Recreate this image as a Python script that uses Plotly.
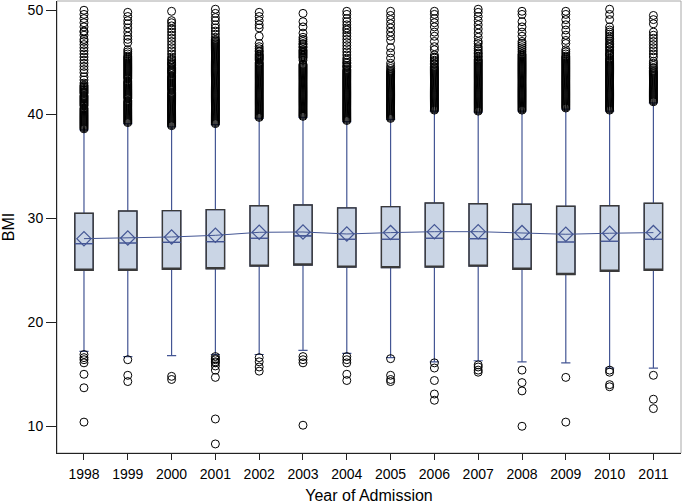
import plotly.graph_objects as go

years = ["1998", "1999", "2000", "2001", "2002", "2003", "2004",
         "2005", "2006", "2007", "2008", "2009", "2010", "2011"]

q1 = [25.0, 25.0, 25.1, 25.15, 25.4, 25.5, 25.3, 25.25, 25.3, 25.4, 25.1, 24.6, 24.9, 25.0]
median = [27.56, 27.62, 27.69, 27.75, 28.08, 28.3, 27.98, 27.98, 28.08, 28.04, 27.98, 27.72, 27.79, 27.98]
q3 = [30.48, 30.7, 30.73, 30.83, 31.21, 31.28, 31.0, 31.12, 31.47, 31.4, 31.35, 31.15, 31.21, 31.44]
means = [28.04, 28.1, 28.2, 28.36, 28.65, 28.68, 28.49, 28.62, 28.71, 28.71, 28.62, 28.46, 28.56, 28.62]
whisker_low = [17.2, 16.7, 16.8, 16.9, 16.9, 17.3, 17.0, 16.6, 16.2, 16.3, 16.2, 16.1, 15.6, 15.6]
whisker_high = [38.5, 39.1, 38.8, 39.0, 39.6, 39.7, 39.3, 39.5, 40.3, 40.2, 40.3, 40.5, 40.3, 41.1]

low_outliers = [
    [16.9, 16.6, 16.4, 16.1, 15.0, 13.7, 10.4],
    [16.4, 14.9, 14.3],
    [14.8, 14.5],
    [16.7, 16.5, 16.4, 16.2, 16.1, 15.8, 15.4, 14.7, 10.7, 8.3],
    [16.6, 16.2, 15.7, 15.3],
    [16.7, 16.4, 16.1, 10.1],
    [16.7, 16.4, 16.1, 15.0, 14.4],
    [16.5, 14.9, 14.5, 14.3],
    [16.1, 15.6, 14.4, 13.1, 12.5],
    [15.9, 15.7, 15.4, 15.2],
    [15.4, 14.2, 13.4, 10.0],
    [14.7, 10.4],
    [15.4, 15.2, 14.0, 13.8],
    [14.9, 12.6, 11.7],
]

high_outliers = [
    # 1998
    [38.6, 38.7, 38.8, 38.9, 39.0, 39.1, 39.2, 39.3, 39.4, 39.5, 39.6, 39.7, 39.8, 39.9,
     40.0, 40.1, 40.2, 40.3, 40.4, 40.5, 40.6, 40.8, 40.9, 41.0, 41.1, 41.2, 41.3, 41.4,
     41.5, 41.6, 41.7, 41.8, 42.0, 42.1, 42.2, 42.3, 42.4, 42.5, 42.6, 42.7, 42.8, 43.0,
     43.3, 43.6, 44.0, 44.3, 44.6, 44.9, 45.2, 45.5, 45.8, 46.1, 46.4, 46.7, 47.0, 47.2,
     47.6, 47.9, 48.0, 48.4, 48.8, 49.2, 49.6, 50.0],
    # 1999
    [39.2, 39.3, 39.4, 39.5, 39.6, 39.7, 39.8, 39.9, 40.0, 40.1, 40.2, 40.3, 40.4, 40.5,
     40.6, 40.7, 40.8, 40.9, 41.0, 41.1, 41.2, 41.3, 41.5, 41.6, 41.7, 41.8, 41.9, 42.0,
     42.1, 42.2, 42.3, 42.4, 42.5, 42.6, 42.7, 42.8, 42.9, 43.0, 43.1, 43.2, 43.4, 43.5,
     43.6, 43.7, 43.8, 43.9, 44.0, 44.1, 44.2, 44.3, 44.4, 44.5, 44.6, 44.7, 44.8, 44.9,
     45.0, 45.1, 45.2, 45.3, 45.4, 45.5, 45.6, 45.8, 46.0, 46.2,
     46.9, 47.2, 47.5, 47.9, 48.3, 48.7, 49.0, 49.4, 49.8],
    # 2000
    [38.9, 39.0, 39.1, 39.2, 39.3, 39.4, 39.5, 39.6, 39.7, 39.8, 39.9, 40.0, 40.1, 40.2,
     40.3, 40.4, 40.5, 40.6, 40.7, 40.8, 40.9, 41.0, 41.1, 41.2, 41.3, 41.4, 41.5, 41.6,
     41.7, 41.8, 41.9, 42.0, 42.1, 42.3, 42.4, 42.5, 42.6, 42.7, 42.8, 42.9, 43.0, 43.1,
     43.2, 43.3, 43.4, 43.5, 43.6, 43.7, 43.9, 44.0, 44.1, 44.2, 44.3, 44.4, 44.5, 44.7,
     44.8, 44.9, 45.0, 45.2, 45.3, 45.5,
     45.8, 46.1, 46.4, 46.7, 47.0, 47.3, 47.6, 47.9, 48.2, 48.5, 48.8, 49.0, 49.9],
    # 2001
    [39.1, 39.2, 39.3, 39.4, 39.5, 39.6, 39.7, 39.8, 39.9, 40.0, 40.1, 40.2, 40.3, 40.4,
     40.5, 40.6, 40.7, 40.8, 40.9, 41.0, 41.1, 41.2, 41.3, 41.4, 41.5, 41.6, 41.7, 41.8,
     41.9, 42.0, 42.1, 42.2, 42.3, 42.4, 42.5, 42.6, 42.7, 42.8, 42.9, 43.0, 43.1, 43.2,
     43.3, 43.4, 43.5, 43.6, 43.7, 43.8, 43.9, 44.0, 44.1, 44.2, 44.3, 44.4, 44.5, 44.6,
     44.7, 44.8, 44.9, 45.0, 45.1, 45.2, 45.3, 45.4, 45.5, 45.6, 45.7, 45.8, 45.9, 46.0,
     46.1, 46.2, 46.3, 46.4, 46.5, 46.6, 46.7, 46.8, 46.9, 47.0, 47.1, 47.2, 47.4,
     47.7, 48.0, 48.3, 48.6, 49.0, 49.3, 49.7, 50.1],
    # 2002
    [39.7, 39.8, 39.9, 40.0, 40.1, 40.2, 40.3, 40.4, 40.5, 40.6, 40.7, 40.8, 40.9, 41.0,
     41.1, 41.2, 41.3, 41.4, 41.5, 41.6, 41.7, 41.8, 41.9, 42.0, 42.1, 42.2, 42.3, 42.4,
     42.5, 42.6, 42.7, 42.8, 42.9, 43.0, 43.1, 43.2, 43.3, 43.4, 43.5, 43.6, 43.7, 43.8,
     43.9, 44.0, 44.1, 44.2, 44.3, 44.4, 44.5, 44.6, 44.7, 44.8, 44.9, 45.0, 45.2, 45.3,
     45.4, 45.5, 45.6, 45.7, 45.8, 46.0, 46.1, 46.3, 46.5,
     46.8, 47.5, 48.3, 48.6, 49.0, 49.4, 49.8],
    # 2003
    [39.8, 39.9, 40.0, 40.1, 40.2, 40.3, 40.4, 40.5, 40.6, 40.7, 40.8, 40.9, 41.0, 41.1,
     41.2, 41.3, 41.4, 41.5, 41.6, 41.7, 41.8, 41.9, 42.0, 42.1, 42.2, 42.3, 42.4, 42.5,
     42.6, 42.7, 42.8, 42.9, 43.0, 43.1, 43.2, 43.3, 43.4, 43.5, 43.6, 43.7, 43.8, 43.9,
     44.0, 44.1, 44.2, 44.3, 44.4, 44.5, 44.6, 44.7, 44.8, 45.2, 45.4, 45.5, 45.6, 45.7,
     45.8, 45.9, 46.0, 46.1, 46.2, 46.4, 46.5, 46.7, 46.8, 47.0, 47.2, 47.4,
     47.8, 48.4, 48.9, 49.7],
    # 2004
    [39.4, 39.5, 39.6, 39.7, 39.8, 39.9, 40.0, 40.1, 40.2, 40.3, 40.4, 40.5, 40.6, 40.7,
     40.8, 40.9, 41.0, 41.1, 41.2, 41.3, 41.4, 41.5, 41.6, 41.7, 41.8, 41.9, 42.0, 42.1,
     42.2, 42.3, 42.4, 42.5, 42.6, 42.7, 42.8, 42.9, 43.0, 43.1, 43.2, 43.3, 43.4, 43.5,
     43.6, 43.7, 43.8, 43.9, 44.0, 44.1, 44.2, 44.3, 44.5, 44.6, 44.7, 44.9, 45.0, 45.2,
     45.4,
     45.7, 46.0, 46.3, 46.6, 46.9, 47.2, 47.5, 47.8, 48.1, 48.3, 48.6, 48.9, 49.2, 49.6, 49.9],
    # 2005
    [39.6, 39.7, 39.8, 39.9, 40.0, 40.1, 40.2, 40.3, 40.4, 40.5, 40.6, 40.7, 40.8, 40.9,
     41.0, 41.1, 41.2, 41.3, 41.4, 41.5, 41.6, 41.7, 41.8, 41.9, 42.0, 42.1, 42.2, 42.3,
     42.4, 42.5, 42.6, 42.7, 42.8, 42.9, 43.0, 43.1, 43.2, 43.3, 43.4, 43.5, 43.6, 43.7,
     43.8, 43.9, 44.0, 44.1, 44.2, 44.4, 44.6,
     44.9, 45.4, 45.9, 46.4, 47.1, 47.5, 47.9, 48.3, 48.7, 49.1, 49.5, 49.9],
    # 2006
    [40.4, 40.5, 40.6, 40.7, 40.8, 40.9, 41.0, 41.1, 41.2, 41.3, 41.4, 41.5, 41.6, 41.7,
     41.8, 41.9, 42.0, 42.1, 42.2, 42.3, 42.4, 42.5, 42.6, 42.7, 42.8, 42.9, 43.0, 43.1,
     43.2, 43.3, 43.4, 43.5, 43.6, 43.7, 43.8, 43.9, 44.0, 44.1, 44.2, 44.3, 44.4, 44.5,
     44.6, 44.8, 44.9, 45.1, 45.2, 45.4, 45.5, 45.7,
     46.2, 46.5, 47.0, 47.5, 47.9, 48.4, 48.8, 49.2, 49.6, 49.9],
    # 2007
    [40.3, 40.4, 40.5, 40.6, 40.7, 40.8, 40.9, 41.0, 41.1, 41.2, 41.3, 41.4, 41.5, 41.6,
     41.7, 41.8, 41.9, 42.0, 42.1, 42.2, 42.3, 42.4, 42.5, 42.6, 42.7, 42.8, 42.9, 43.0,
     43.1, 43.2, 43.3, 43.4, 43.5, 43.6, 43.7, 43.8, 43.9, 44.0, 44.1, 44.2, 44.3, 44.4,
     44.5, 44.6, 44.7, 44.8, 44.9, 45.0, 45.1, 45.2, 45.3, 45.5, 45.6, 45.8, 45.9, 46.1,
     46.3, 46.5,
     46.8, 47.0, 47.4, 47.8, 48.2, 48.6, 49.0, 49.4, 49.8, 50.1],
    # 2008
    [40.4, 40.5, 40.6, 40.7, 40.8, 40.9, 41.0, 41.1, 41.2, 41.3, 41.4, 41.5, 41.6, 41.7,
     41.8, 41.9, 42.0, 42.1, 42.2, 42.3, 42.4, 42.5, 42.6, 42.7, 42.8, 42.9, 43.0, 43.1,
     43.2, 43.3, 43.4, 43.5, 43.6, 43.7, 43.8, 43.9, 44.0, 44.1, 44.2, 44.3, 44.4, 44.5,
     44.6, 44.7, 44.8, 44.9, 45.0, 45.1, 45.2, 45.3, 45.4, 45.5, 45.6, 45.7, 45.8, 46.0,
     46.2, 46.4, 46.6, 46.8,
     47.0, 47.5, 47.9, 48.4, 48.9, 49.6, 49.9],
    # 2009
    [40.6, 40.7, 40.8, 40.9, 41.0, 41.1, 41.2, 41.3, 41.4, 41.5, 41.6, 41.7, 41.8, 41.9,
     42.0, 42.1, 42.2, 42.3, 42.4, 42.5, 42.6, 42.7, 42.8, 42.9, 43.0, 43.1, 43.2, 43.3,
     43.4, 43.5, 43.6, 43.7, 43.8, 43.9, 44.0, 44.1, 44.2, 44.3, 44.4, 44.5, 44.6, 44.7,
     44.8, 44.9, 45.0, 45.1, 45.2, 45.3, 45.4, 45.5, 45.6, 45.8, 46.0, 46.2,
     46.8, 47.1, 47.6, 48.1, 48.6, 49.1, 49.6, 49.9],
    # 2010
    [40.4, 40.5, 40.6, 40.7, 40.8, 40.9, 41.0, 41.1, 41.2, 41.3, 41.4, 41.5, 41.6, 41.7,
     41.8, 41.9, 42.0, 42.1, 42.2, 42.3, 42.4, 42.5, 42.6, 42.7, 42.8, 42.9, 43.0, 43.1,
     43.2, 43.3, 43.4, 43.5, 43.6, 43.7, 43.8, 43.9, 44.0, 44.1, 44.2, 44.3, 44.4, 44.5,
     44.6, 44.7, 44.8, 44.9, 45.0, 45.1, 45.2, 45.3, 45.4, 45.6, 45.7, 45.8, 45.9, 46.1,
     46.2, 46.4, 46.5, 46.7, 46.8, 47.0, 47.2, 47.3, 47.5, 47.7, 47.9, 48.1, 48.4,
     49.1, 49.6, 50.1],
    # 2011
    [41.2, 41.3, 41.4, 41.5, 41.6, 41.7, 41.8, 41.9, 42.0, 42.1, 42.2, 42.3, 42.4, 42.5,
     42.6, 42.7, 42.8, 42.9, 43.0, 43.1, 43.2, 43.3, 43.4, 43.5, 43.6, 43.7, 43.8, 43.9,
     44.0, 44.1, 44.2, 44.4, 44.5, 44.7, 44.9, 45.1,
     45.5, 45.8, 46.1, 46.4, 46.7, 47.0, 47.3, 47.6, 47.9, 48.7, 49.1, 49.5],
]

BLUE = "#445694"
FILL = "#cad5e5"
OUTLINE = "#3a3a3a"
FONT = "Liberation Sans"

out_x, out_y = [], []
for yr, lows, highs in zip(years, low_outliers, high_outliers):
    for v in lows + highs:
        out_x.append(yr)
        out_y.append(v)

fig = go.Figure()

# box with whiskers, median (blue lines) and fill
fig.add_trace(go.Box(
    x=years, q1=q1, median=median, q3=q3,
    lowerfence=whisker_low, upperfence=whisker_high,
    fillcolor=FILL, line=dict(color=BLUE, width=1.2),
    whiskerwidth=0.5, width=0.42, boxpoints=False, showlegend=False,
))
# dark box outline on top
fig.add_trace(go.Box(
    x=years, q1=q1, median=q1, q3=q3,
    lowerfence=q1, upperfence=q3,
    fillcolor="rgba(0,0,0,0)", line=dict(color=OUTLINE, width=1.4),
    whiskerwidth=0, width=0.42, boxpoints=False, showlegend=False,
))
# re-draw medians in blue over the outline box
fig.add_trace(go.Box(
    x=years, q1=median, median=median, q3=median,
    lowerfence=median, upperfence=median,
    fillcolor="rgba(0,0,0,0)", line=dict(color=BLUE, width=1.2),
    whiskerwidth=0, width=0.42, boxpoints=False, showlegend=False,
))

fig.add_trace(go.Scatter(
    x=out_x, y=out_y, mode="markers",
    marker=dict(symbol="circle-open", size=8, color="black", line=dict(width=1)),
    showlegend=False,
))

fig.add_trace(go.Scatter(
    x=years, y=means, mode="lines+markers",
    line=dict(color=BLUE, width=1),
    marker=dict(symbol="diamond-open", size=11, color=BLUE, line=dict(width=1.2)),
    showlegend=False,
))

fig.update_layout(
    width=682, height=504,
    margin=dict(l=57, r=1, t=1, b=51),
    paper_bgcolor="white", plot_bgcolor="white",
    boxmode="overlay", showlegend=False,
    font=dict(family=FONT, color="black", size=14),
    shapes=[dict(type="rect", xref="paper", yref="paper", x0=0, y0=0, x1=1, y1=1,
                 line=dict(color="#a8a8a8", width=1), layer="below")],
)
fig.update_xaxes(
    type="category", range=[-0.616, 13.63], automargin=False,
    showline=True, linecolor="#222", linewidth=1,
    ticks="outside", ticklen=6, tickcolor="#222", ticklabelstandoff=2,
    tickfont=dict(size=14, family=FONT),
    showgrid=False, zeroline=False,
    title=dict(text="Year of Admission", font=dict(size=16, family=FONT), standoff=12),
)
fig.update_yaxes(
    range=[7.43, 50.89], tickvals=[10, 20, 30, 40, 50], automargin=False,
    showline=True, linecolor="#222", linewidth=1,
    ticks="outside", ticklen=10, tickcolor="#222",
    tickfont=dict(size=14, family=FONT),
    showgrid=False, zeroline=False,
    title=dict(text="BMI", font=dict(size=16, family=FONT), standoff=19),
)

fig.write_html(
    "out.html",
    config={"displayModeBar": False},
    post_script="document.body.style.margin='0';document.body.style.padding='0';",
)
